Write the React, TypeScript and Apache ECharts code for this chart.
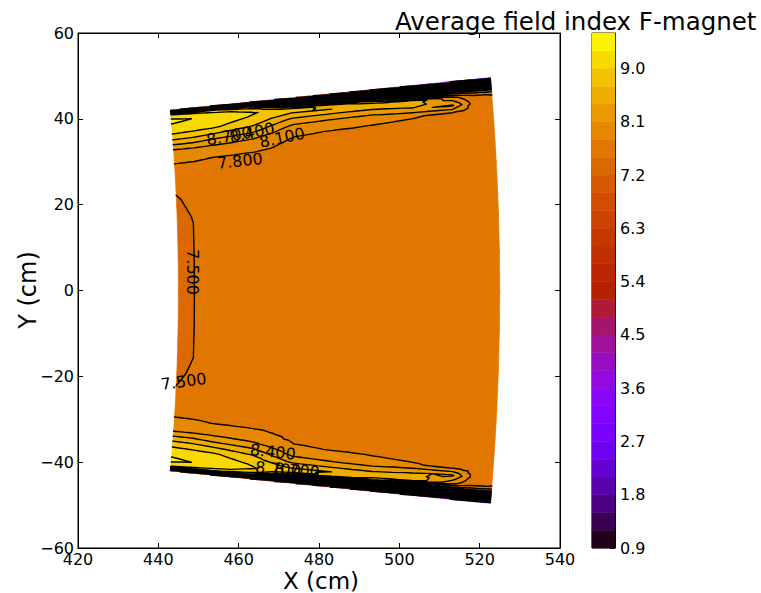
import React, { useEffect, useRef } from "react";
import * as echarts from "echarts";

const FONT = "DejaVu Sans";

// Contour levels of the field index (also the colour-bar bands)
const LEVELS = [
  0.9, 1.2, 1.5, 1.8, 2.1, 2.4, 2.7, 3.0, 3.3, 3.6, 3.9, 4.2, 4.5, 4.8, 5.1,
  5.4, 5.7, 6.0, 6.3, 6.6, 6.9, 7.2, 7.5, 7.8, 8.1, 8.4, 8.7, 9.0, 9.3, 9.6,
];

// Measurement grid: radius (cm) and polar angle above the mid-plane (deg)
const RADII = [445, 450, 455, 465, 475, 485, 495, 505, 515, 520, 525];
const ANGLES = [0, 2, 3, 3.6, 3.9, 4.2, 4.4, 4.6, 4.8, 5.0, 5.1, 5.2, 5.28, 5.35, 5.42];

// Field index along ANGLES for each radius (upper half; the lower half is symmetric)
const F_R445 = [7.38, 7.38, 7.52, 7.7, 7.85, 8.05, 8.45, 8.85, 9.15, 9.3, 9.35, 9.25, 9.0, 8.0, 7.0];
const F_R450 = [7.53, 7.53, 7.6, 7.7, 7.83, 8.03, 8.42, 8.8, 9.1, 9.25, 9.3, 9.2, 8.9, 7.8, 6.8];
const F_R455 = [7.62, 7.62, 7.64, 7.7, 7.79, 8.0, 8.3, 8.7, 9.05, 9.2, 9.2, 9.1, 8.8, 7.6, 6.6];
const F_R465 = [7.65, 7.65, 7.66, 7.7, 7.76, 7.92, 8.15, 8.5, 8.8, 8.98, 9.03, 8.9, 8.4, 7.2, 6.3];
const F_R475 = [7.65, 7.65, 7.66, 7.68, 7.72, 7.76, 7.83, 8.0, 8.3, 8.7, 8.85, 8.1, 7.2, 6.4, 5.8];
const F_R485 = [7.65, 7.65, 7.66, 7.68, 7.7, 7.74, 7.79, 7.94, 8.22, 8.7, 8.6, 7.6, 6.7, 5.9, 5.1];
const F_R495 = [7.65, 7.65, 7.66, 7.67, 7.69, 7.72, 7.77, 7.86, 8.2, 8.65, 8.2, 7.0, 6.1, 5.3, 4.5];
const F_R505 = [7.65, 7.65, 7.66, 7.67, 7.68, 7.7, 7.74, 7.82, 8.35, 8.7, 7.6, 6.6, 5.7, 4.9, 4.1];
const F_R515 = [7.65, 7.65, 7.66, 7.67, 7.68, 7.69, 7.71, 7.75, 8.45, 7.9, 7.2, 6.3, 5.4, 4.6, 3.9];
const F_R520 = [7.65, 7.65, 7.65, 7.66, 7.67, 7.68, 7.7, 7.7, 7.72, 7.55, 7.1, 6.2, 5.3, 4.5, 3.8];
const F_R525 = [7.64, 7.64, 7.64, 7.65, 7.66, 7.67, 7.68, 7.68, 7.65, 7.48, 7.0, 6.1, 5.2, 4.4, 3.7];

const FIELD = [F_R445, F_R450, F_R455, F_R465, F_R475, F_R485, F_R495, F_R505, F_R515, F_R520, F_R525];

// Inline contour labels: level and anchor (cm), text angle (deg)
const CONTOUR_LABELS = [
  { level: 8.7, x: 457.6, y: 36.0, angle: 10 },
  { level: 8.4, x: 463.3, y: 36.8, angle: 12 },
  { level: 8.1, x: 470.8, y: 35.6, angle: 12 },
  { level: 7.8, x: 460.3, y: 30.2, angle: 6 },
  { level: 7.5, x: 448.6, y: 4.3, angle: -90 },
  { level: 7.5, x: 446.3, y: -21.2, angle: 8 },
  { level: 8.4, x: 468.5, y: -37.6, angle: -6 },
  { level: 8.7, x: 469.8, y: -41.6, angle: -5 },
  { level: 8.7, x: 474.5, y: -41.9, angle: -5 },
];

// matplotlib "gnuplot" colormap
function gnuplot(t: number): string {
  const c = (x: number) => Math.round(Math.min(1, Math.max(0, x)) * 255);
  return `rgb(${c(Math.sqrt(t))},${c(t * t * t)},${c(Math.sin(2 * Math.PI * t))})`;
}
const VMIN = LEVELS[0];
const VMAX = LEVELS[LEVELS.length - 1];
const BAND_COLORS = LEVELS.slice(0, -1).map((lo, i) =>
  gnuplot(((lo + LEVELS[i + 1]) / 2 - VMIN) / (VMAX - VMIN))
);

type P = [number, number, number];

function bandOf(v: number): number {
  let k = 0;
  while (k < LEVELS.length - 2 && v >= LEVELS[k + 1]) k++;
  return k;
}

function clip(poly: P[], L: number, keepAbove: boolean): P[] {
  const out: P[] = [];
  const inside = (p: P) => (keepAbove ? p[2] >= L : p[2] <= L);
  for (let i = 0; i < poly.length; i++) {
    const a = poly[i];
    const b = poly[(i + 1) % poly.length];
    const ia = inside(a);
    const ib = inside(b);
    if (ia) out.push(a);
    if (ia !== ib) {
      const t = (L - a[2]) / (b[2] - a[2]);
      out.push([a[0] + (b[0] - a[0]) * t, a[1] + (b[1] - a[1]) * t, L]);
    }
  }
  return out;
}

const f2 = (n: number) => n.toFixed(2);
const polyPath = (pts: P[]) =>
  "M" + pts.map((p) => f2(p[0]) + " " + f2(p[1])).join("L") + "Z";

// Filled contours and contour lines over the polar measurement grid
function renderField(_params: any, api: any) {
  const S = 2;
  const nR = RADII.length;
  const nA = ANGLES.length;
  const nT = 2 * nA - 1;
  const thetaAt = (j: number) => (j < nA - 1 ? -ANGLES[nA - 1 - j] : ANGLES[j - (nA - 1)]);
  const fieldAt = (i: number, j: number) => FIELD[i][Math.abs(j - (nA - 1))];
  const nu = (nR - 1) * S + 1;
  const nw = (nT - 1) * S + 1;
  const pts: P[] = [];
  for (let a = 0; a < nu; a++) {
    const i0 = Math.min(Math.floor(a / S), nR - 2);
    const fu = a / S - i0;
    const r = RADII[i0] + (RADII[i0 + 1] - RADII[i0]) * fu;
    for (let b = 0; b < nw; b++) {
      const j0 = Math.min(Math.floor(b / S), nT - 2);
      const fw = b / S - j0;
      const th = ((thetaAt(j0) + (thetaAt(j0 + 1) - thetaAt(j0)) * fw) * Math.PI) / 180;
      const v =
        (1 - fu) * (1 - fw) * fieldAt(i0, j0) +
        fu * (1 - fw) * fieldAt(i0 + 1, j0) +
        (1 - fu) * fw * fieldAt(i0, j0 + 1) +
        fu * fw * fieldAt(i0 + 1, j0 + 1);
      const p = api.coord([r * Math.cos(th), r * Math.sin(th)]);
      pts[a * nw + b] = [p[0], p[1], v];
    }
  }
  const bandPaths: string[] = BAND_COLORS.map(() => "");
  let lines = "";
  const addTri = (tri: P[]) => {
    const vs = tri.map((p) => p[2]);
    const vmin = Math.min(...vs);
    const vmax = Math.max(...vs);
    const kmin = bandOf(vmin);
    const kmax = bandOf(vmax);
    if (kmin === kmax) {
      bandPaths[kmin] += polyPath(tri);
    } else {
      for (let k = kmin; k <= kmax; k++) {
        let poly = tri;
        if (k > kmin) poly = clip(poly, LEVELS[k], true);
        if (poly.length >= 3 && k < kmax) poly = clip(poly, LEVELS[k + 1], false);
        if (poly.length >= 3) bandPaths[k] += polyPath(poly);
      }
    }
    for (const L of LEVELS) {
      if (!(vmin < L && L <= vmax)) continue;
      const seg: number[][] = [];
      for (let e = 0; e < 3; e++) {
        const p = tri[e];
        const q = tri[(e + 1) % 3];
        if (p[2] >= L !== q[2] >= L) {
          const t = (L - p[2]) / (q[2] - p[2]);
          seg.push([p[0] + (q[0] - p[0]) * t, p[1] + (q[1] - p[1]) * t]);
        }
      }
      if (seg.length === 2) {
        lines += `M${f2(seg[0][0])} ${f2(seg[0][1])}L${f2(seg[1][0])} ${f2(seg[1][1])}`;
      }
    }
  };
  for (let a = 0; a < nu - 1; a++) {
    for (let b = 0; b < nw - 1; b++) {
      const p00 = pts[a * nw + b];
      const p10 = pts[(a + 1) * nw + b];
      const p11 = pts[(a + 1) * nw + b + 1];
      const p01 = pts[a * nw + b + 1];
      addTri([p00, p10, p11]);
      addTri([p00, p11, p01]);
    }
  }
  const children: any[] = [];
  bandPaths.forEach((d, k) => {
    if (!d) return;
    children.push({
      type: "path",
      shape: { pathData: d },
      style: { fill: BAND_COLORS[k], stroke: BAND_COLORS[k], lineWidth: 0.6 },
    });
  });
  children.push({
    type: "path",
    shape: { pathData: lines },
    style: { fill: "none", stroke: "#000", lineWidth: 1.4, lineCap: "round" },
  });
  return { type: "group", children };
}

function renderContourLabel(params: any, api: any) {
  const l = CONTOUR_LABELS[params.dataIndex];
  const p = api.coord([l.x, l.y]);
  return {
    type: "text",
    x: p[0],
    y: p[1],
    rotation: (l.angle * Math.PI) / 180,
    style: {
      text: l.level.toFixed(3),
      fontSize: 16,
      fontFamily: FONT,
      fill: "#000",
      align: "center",
      verticalAlign: "middle",
    },
  };
}

function renderColorBand(_params: any, api: any) {
  const lo = api.value(0);
  const hi = api.value(1);
  const k = api.value(2);
  const p1 = api.coord([0, hi]);
  const p2 = api.coord([1, lo]);
  return {
    type: "rect",
    shape: { x: p1[0], y: p1[1], width: p2[0] - p1[0], height: p2[1] - p1[1] },
    style: { fill: BAND_COLORS[k], stroke: BAND_COLORS[k], lineWidth: 0.5 },
  };
}

const minus = (v: number) => String(v).replace("-", "\u2212");

const frameAxis = {
  axisLine: { show: true, onZero: false, lineStyle: { color: "#000", width: 1 } },
  axisTick: { show: true, inside: true, length: 5, lineStyle: { color: "#000" } },
  splitLine: { show: false },
};
const tickFont = { fontSize: 16, fontFamily: FONT, color: "#000" };

const option: any = {
  animation: false,
  grid: [
    { left: 78, top: 33, width: 482, height: 515, show: true, borderColor: "#000", borderWidth: 1 },
    { left: 592, top: 33, width: 23, height: 515, show: true, borderColor: "#000", borderWidth: 1 },
  ],
  xAxis: [
    {
      gridIndex: 0, type: "value", position: "bottom", min: 420, max: 540, interval: 20,
      ...frameAxis, axisLabel: { ...tickFont, margin: 3, formatter: minus },
    },
    {
      gridIndex: 0, type: "value", position: "top", min: 420, max: 540, interval: 20,
      ...frameAxis, axisLabel: { show: false },
    },
    { gridIndex: 1, type: "value", min: 0, max: 1, show: false },
  ],
  yAxis: [
    {
      gridIndex: 0, type: "value", position: "left", min: -60, max: 60, interval: 20,
      ...frameAxis, axisLabel: { ...tickFont, margin: 4, formatter: minus },
    },
    {
      gridIndex: 0, type: "value", position: "right", min: -60, max: 60, interval: 20,
      ...frameAxis, axisLabel: { show: false },
    },
    {
      gridIndex: 1, type: "value", position: "right", min: 0.9, max: 9.6, interval: 0.9,
      ...frameAxis,
      axisLabel: { ...tickFont, margin: 5, showMaxLabel: false, formatter: (v: number) => v.toFixed(1) },
    },
  ],
  series: [
    {
      type: "custom", xAxisIndex: 0, yAxisIndex: 0, renderItem: renderField,
      data: [[480, 0]], silent: true, z: 2,
    },
    {
      type: "custom", xAxisIndex: 0, yAxisIndex: 0, renderItem: renderContourLabel,
      data: CONTOUR_LABELS.map((l) => [l.x, l.y]), silent: true, z: 3,
    },
    {
      type: "custom", xAxisIndex: 2, yAxisIndex: 2, renderItem: renderColorBand,
      data: LEVELS.slice(0, -1).map((lo, i) => [lo, LEVELS[i + 1], i]), silent: true, z: 2,
    },
  ],
  graphic: [
    {
      type: "text", x: 395, y: 21,
      style: { text: "Average field index F-magnet", fontSize: 24.5, fontFamily: FONT, fill: "#000", verticalAlign: "middle" },
    },
    {
      type: "text", x: 321, y: 580.5,
      style: { text: "X (cm)", fontSize: 23, fontFamily: FONT, fill: "#000", align: "center", verticalAlign: "middle" },
    },
    {
      type: "text", x: 28, y: 290, rotation: Math.PI / 2,
      style: { text: "Y (cm)", fontSize: 24, fontFamily: FONT, fill: "#000", align: "center", verticalAlign: "middle" },
    },
  ],
};

export default function App() {
  const ref = useRef<HTMLDivElement>(null);
  useEffect(() => {
    document.body.style.margin = "0";
    const chart = echarts.init(ref.current!, undefined, { renderer: "svg" });
    chart.setOption(option);
    return () => chart.dispose();
  }, []);
  return <div ref={ref} style={{ width: 761, height: 593 }} />;
}
